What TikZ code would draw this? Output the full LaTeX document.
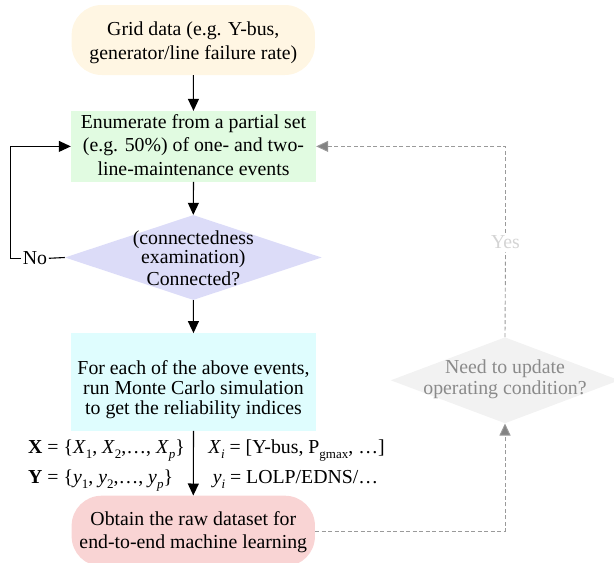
\documentclass[tikz,border=0pt]{standalone}
\usepackage{fontspec}
\setmainfont{Liberation Serif}
\usetikzlibrary{shapes.geometric,arrows.meta}

\definecolor{creamfill}{HTML}{FFF6E3}
\definecolor{greenfill}{HTML}{E1FBE1}
\definecolor{lavfill}{HTML}{DCDCF8}
\definecolor{cyanfill}{HTML}{DFFDFE}
\definecolor{pinkfill}{HTML}{F9D4D4}
\definecolor{grayfill}{HTML}{F2F2F2}
\definecolor{graytext}{HTML}{8A8A8A}
\definecolor{yestext}{HTML}{D4D4D4}
\definecolor{dashgray}{HTML}{9A9A9A}

\newcommand{\fs}{\fontsize{19.8}{23.3}\selectfont}
\newcommand{\lsub}[1]{\raisebox{-0.28em}{\fontsize{13}{13}\selectfont #1}}

\tikzset{
  txt/.style={font=\fs, inner sep=0pt, anchor=base},
  boxshape/.style={draw=none, inner sep=0pt, minimum width=245pt},
  diashape/.style={diamond, draw=none, inner sep=0pt},
  arr/.style={draw=black, line width=1.1pt, -{Triangle[length=12pt,width=11pt]}},
  plainline/.style={draw=black, line width=1.1pt},
  dashline/.style={draw=dashgray, line width=0.9pt, dash pattern=on 4pt off 2.5pt},
  dasharr/.style={dashline, -{Triangle[length=12pt,width=11pt,fill=dashgray!85!black]}},
}

\begin{document}
\begin{tikzpicture}[x=1pt,y=-1pt]
\useasboundingbox (0,0) rectangle (614,563);
\clip (0,0) rectangle (614,563);

% --- shapes
\node[boxshape, fill=creamfill, minimum width=243.3pt, minimum height=70pt, rounded corners=30pt] (grid) at (193.3,40) {};
\node[boxshape, fill=greenfill, minimum height=70.7pt] (enum) at (193.5,146.4) {};
\node[diashape, fill=lavfill, minimum width=256.7pt, minimum height=85pt] (conn) at (193.3,257.5) {};
\node[boxshape, fill=cyanfill, minimum height=97.4pt] (mc) at (193.5,382) {};
\node[boxshape, fill=pinkfill, minimum width=243.3pt, minimum height=70.6pt, rounded corners=30pt] (raw) at (193.3,531) {};
\node[diashape, fill=grayfill, minimum width=228.6pt, minimum height=86pt] (upd) at (505,380.3) {};

% --- texts inside the shapes
\node[txt] (grid1) at (193.3,35) {Grid data (e.g. Y-bus,};
\node[txt] (grid2) at (193.3,59.3) {generator/line failure rate)};

\node[txt] (enum1) at (193.5,128.3) {Enumerate from a partial set};
\node[txt] (enum2) at (193.5,151.7) {(e.g. 50\%) of one- and two-};
\node[txt] (enum3) at (193.5,175) {line-maintenance events};

\node[txt] (conn1) at (193.3,244.5) {(connectedness};
\node[txt] (conn2) at (193.3,263.5) {examination)};
\node[txt] (conn3) at (193.3,285.5) {Connected?};

\node[txt] (mc1) at (193.5,374.5) {For each of the above events,};
\node[txt] (mc2) at (193.5,394.5) {run Monte Carlo simulation};
\node[txt] (mc3) at (193.5,414) {to get the reliability indices};

\node[txt] (raw1) at (193.3,525) {Obtain the raw dataset for};
\node[txt] (raw2) at (193.3,548.3) {end-to-end machine learning};

\node[txt, text=graytext] (upd1) at (505,373.3) {Need to update};
\node[txt, text=graytext] (upd2) at (505,394.3) {operating condition?};

% --- dataset labels beside the arrow
\node[txt, anchor=base west] (xset) at (28,453.3) {\textbf{X} = \{\textit{X}\lsub{1}, \textit{X}\lsub{2},…, \textit{X}\lsub{\textit{p}}\}};
\node[txt, anchor=base west] (yset) at (28,483.3) {\textbf{Y} = \{\textit{y}\lsub{1}, \textit{y}\lsub{2},…, \textit{y}\lsub{\textit{p}}\}};
\node[txt] (xi) at (296.5,453.3) {\textit{X}\lsub{\textit{i}} = [Y-bus, P\lsub{gmax}, …]};
\node[txt] (yi) at (295.5,483.3) {\textit{y}\lsub{\textit{i}} = LOLP/EDNS/…};

% --- branch labels
\node[font=\fs, inner sep=1.5pt] (no) at (35,258.3) {No};
\node[font=\fs, inner sep=3pt, text=yestext] (yes) at (505.5,242.3) {Yes};
\coordinate (loopcorner) at (10.5,258.3);

% --- main flow
\draw[arr] (grid.south) -- (enum.north);
\draw[arr] (enum.south) -- (conn.north);
\draw[arr] (conn.south) -- (mc.north);
\draw[arr] (mc.south) -- (raw.north);

% --- "No" loop back to the enumeration
\draw[plainline] (conn.west) -- (no.east);
\draw[arr] (no.west) -- (loopcorner) |- (enum.west);

% --- update loop
\draw[dasharr] (raw.east) -| (upd.south);
\draw[dashline] (upd.north) -- (yes.south);
\draw[dasharr] (yes.north) |- (enum.east);
\end{tikzpicture}
\end{document}
